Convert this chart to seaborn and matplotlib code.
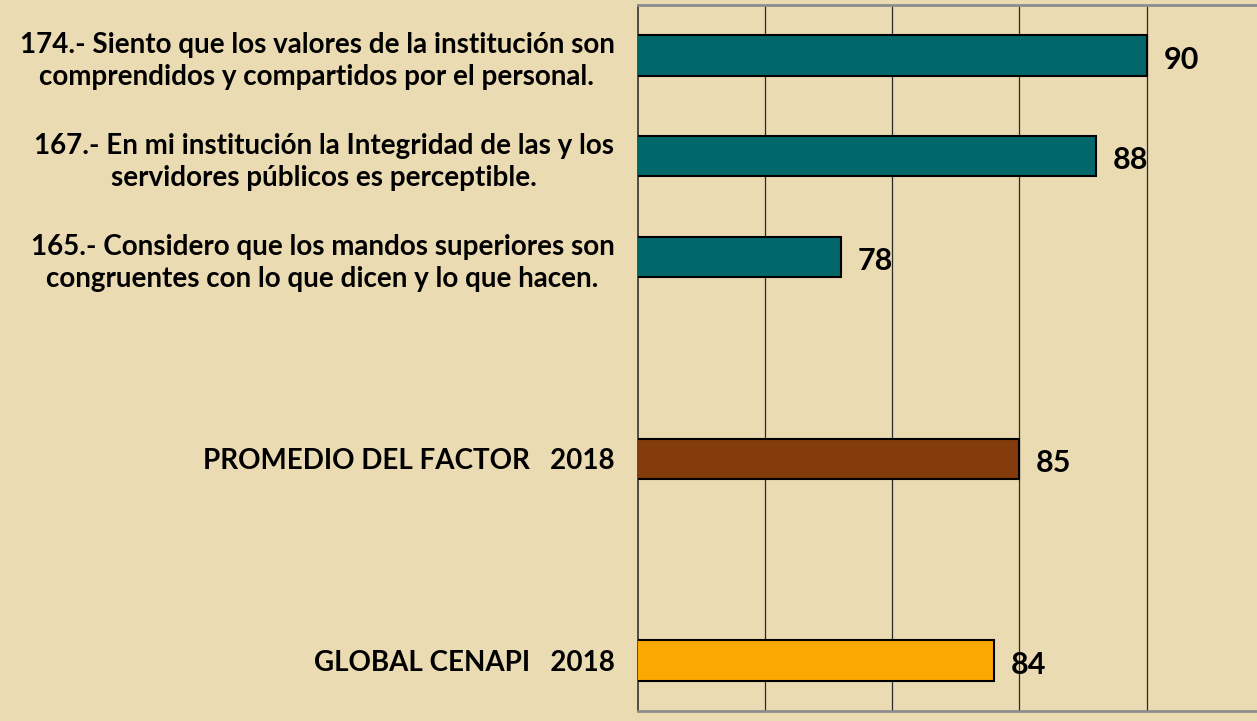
import numpy as np
import pandas as pd
import seaborn as sns
import matplotlib.pyplot as plt

# values
preguntas = [
    "174.- Siento que los valores de la institución son\ncomprendidos y compartidos por el personal.",
    "167.- En mi institución la Integridad de las y los\nservidores públicos es perceptible.",
    "165.- Considero que los mandos superiores son\ncongruentes con lo que dicen y lo que hacen.",
    "PROMEDIO DEL FACTOR   2018",
    "GLOBAL CENAPI   2018",
]
valores = [90, 88, 78, 85, 84]
grupos = ["reactivo", "reactivo", "reactivo", "factor", "global"]
colores = {"reactivo": "#00686A", "factor": "#843C0C", "global": "#FBA900"}

# empty slots between the groups of bars
orden = [preguntas[0], preguntas[1], preguntas[2], " ", preguntas[3], "  ", preguntas[4]]

df = pd.DataFrame({"pregunta": preguntas, "valor": valores, "grupo": grupos})

sns.set_style("white")
plt.rcParams['font.family'] = ['Lato', 'DejaVu Sans']
plt.rcParams['text.color'] = 'black'
plt.rcParams['ytick.color'] = 'black'
fondo = "#EBDBB3"

fig = plt.figure(figsize=(12.57, 7.21), dpi=100, facecolor=fondo)
ax = fig.add_axes([638 / 1257, 1 - 711 / 721, 1 - 638 / 1257, 706 / 721])
ax.set_facecolor(fondo)

sns.barplot(data=df, x="valor", y="pregunta", order=orden, hue="grupo",
            palette=colores, saturation=1, dodge=False, width=0.4, legend=False,
            edgecolor="black", linewidth=1.5, ax=ax, zorder=3)

ax.set_xlim(70, 94.34)
ax.set_ylim(6.5, -0.5)
ax.set_xticks([75, 80, 85, 90])
ax.set_xticklabels([])
ax.tick_params(axis="x", length=0)
ax.grid(axis="x", color="#2a2a2a", linewidth=0.9, zorder=0)
ax.set_axisbelow(True)

# category labels, minor ticks on the slot borders
ax.set_yticks(range(len(orden)))
ax.set_yticklabels([t.strip() for t in orden], fontsize=20, fontweight="bold",
                   multialignment="center", linespacing=1.3, color="black")
ax.tick_params(axis="y", length=0, pad=17)
ax.set_yticks(np.arange(-0.5, 7, 1), minor=True)
ax.tick_params(axis="y", which="minor", length=6, width=1, color="#444444", direction="out")
ax.set_xlabel("")
ax.set_ylabel("")

for s in ["top", "bottom"]:
    ax.spines[s].set_color("#8c8c8c")
    ax.spines[s].set_linewidth(2)
ax.spines["right"].set_visible(False)
ax.spines["left"].set_color("#333333")
ax.spines["left"].set_linewidth(1.2)

for p, v in zip(preguntas, valores):
    ax.annotate(str(v), xy=(v, orden.index(p)), xytext=(12, -3), textcoords="offset points",
                va="center", ha="left", fontsize=22, fontweight="bold", color="black")

fig.savefig("out.png", dpi=100, facecolor=fondo)
